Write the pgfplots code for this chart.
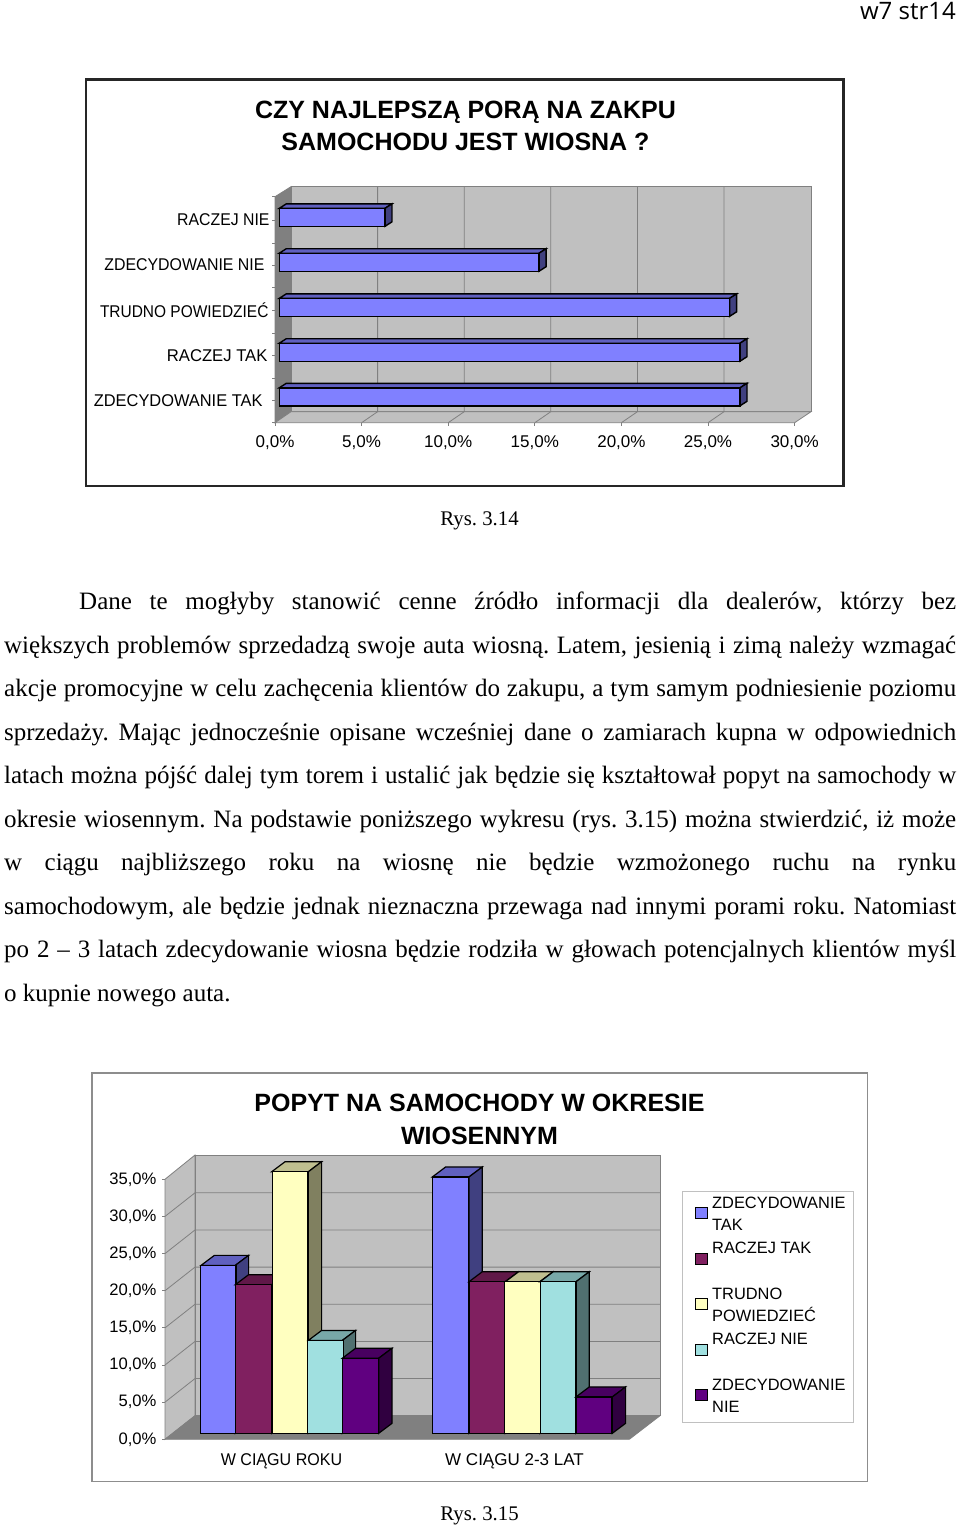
\documentclass[border=0pt]{standalone}
\usepackage{fontspec}
\usepackage{graphicx}
\usepackage{pgfplots}
\pgfplotsset{compat=1.18}
\setmainfont{Liberation Serif}
\newfontfamily\arial{Liberation Sans}
\newfontfamily\hdr{Open Sans}
\frenchspacing
\definecolor{wall}{HTML}{C0C0C0}
\definecolor{dwall}{HTML}{808080}
\definecolor{bA}{HTML}{8080FF}\definecolor{bAt}{HTML}{6060BF}\definecolor{bAs}{HTML}{404080}
\definecolor{bB}{HTML}{802060}\definecolor{bBt}{HTML}{601848}\definecolor{bBs}{HTML}{401030}
\definecolor{bC}{HTML}{FFFFC0}\definecolor{bCt}{HTML}{BFBF90}\definecolor{bCs}{HTML}{808060}
\definecolor{bD}{HTML}{A0E0E0}\definecolor{bDt}{HTML}{78A8A8}\definecolor{bDs}{HTML}{507070}
\definecolor{bE}{HTML}{600080}\definecolor{bEt}{HTML}{480060}\definecolor{bEs}{HTML}{300040}
% horizontal 3D bar: {y position}{value}
\newcommand\hb[2]{%
 \addplot[forget plot,fill=bAt,draw=black,line width=1.4pt,xshift=4.3pt] coordinates {(0,{#1+9})(0.404,{#1+13.5})({#2+0.404},{#1+13.5})(#2,{#1+9})} --cycle;
 \addplot[forget plot,fill=bAs,draw=black,line width=1.4pt,xshift=4.3pt] coordinates {(#2,{#1+9})({#2+0.404},{#1+13.5})({#2+0.404},{#1-4.5})(#2,{#1-9})} --cycle;
 \addplot[forget plot,xbar,bar width=18pt,bar shift=0pt,fill=bA,draw=black,line width=1.4pt,xshift=4.3pt] coordinates {(#2,#1)};
}
% vertical 3D bar: {x1}{x2}{value}{front}{top}{side}
\newcommand\vb[6]{%
 \addplot[forget plot,fill=#5,draw=black,line width=1.2pt,yshift=6pt] coordinates {(#1,#3)({#1+13.3},{#3+1.346})({#2+13.3},{#3+1.346})(#2,#3)} --cycle;
 \addplot[forget plot,fill=#6,draw=black,line width=1.2pt,yshift=6pt] coordinates {(#2,0)({#2+13.3},1.346)({#2+13.3},{#3+1.346})(#2,#3)} --cycle;
 \addplot[forget plot,ybar,bar width=35.8pt,bar shift=0pt,fill=#4,draw=black,line width=1.2pt,yshift=6pt] coordinates {({(#1+#2)/2},#3)};
}
\newcommand\bl[2]{\node[anchor=base west,inner sep=0pt] at (4,#1) {\makebox[952pt][s]{#2}};}
\newcommand\blp[2]{\node[anchor=base west,inner sep=0pt] at (4,#1) {#2};}
\begin{document}
\begin{tikzpicture}[x=1pt,y=-1pt]
\useasboundingbox (0,0) rectangle (960,1525);
\fill[white] (0,0) rectangle (960,1525);
% header
\node[anchor=base east,inner sep=0pt,font=\hdr\fontsize{24}{24}\selectfont] at (956,20) {w7 str14};
% frames
\draw[line width=2.4pt,black!85] (85.7,79.6) rectangle (843.5,485.7);
\draw[line width=1.3pt,dwall!90] (92,1073) rectangle (867.3,1481.3);
% titles
\node[align=center,inner sep=0pt,font=\arial\bfseries\fontsize{25}{32.5}\selectfont] at (465.5,126) {CZY NAJLEPSZĄ PORĄ NA ZAKPU\\SAMOCHODU JEST WIOSNA ?};
\node[align=center,inner sep=0pt,font=\arial\bfseries\fontsize{25}{32.5}\selectfont] at (479.5,1119.5) {POPYT NA SAMOCHODY W OKRESIE\\WIOSENNYM};
% chart 1
\begin{axis}[at={(275pt,-422.7pt)},anchor=south west,scale only axis,width=536pt,height=236pt,
 xmin=0,xmax=30.947,ymin=0,ymax=236,clip=false,axis line style={draw=none},
 axis x line*=bottom,axis y line*=left,
 xtick={0,5,10,15,20,25,30},xticklabels={{0,0\%},{5,0\%},{10,0\%},{15,0\%},{20,0\%},{25,0\%},{30,0\%}},
 ytick={22,67.2,112.4,157.6,202.8},
 yticklabels={\scalebox{0.965}[1]{ZDECYDOWANIE TAK}\kern7pt,\scalebox{0.98}[1]{RACZEJ TAK}\kern2pt,\scalebox{0.91}[1]{TRUDNO POWIEDZIEĆ}\kern1pt,\scalebox{0.935}[1]{ZDECYDOWANIE NIE}\kern5pt,\scalebox{0.93}[1]{RACZEJ NIE}},
 minor ytick={0,44,89.4,135.4,179.4,226},
 tick style={dwall,line width=0.8pt},major tick length=3pt,minor tick length=3pt,
 tick align=outside,
 y tick label style={font=\arial\fontsize{17}{17}\selectfont,xshift=1pt},
 x tick label style={font=\arial\fontsize{17}{17}\selectfont,yshift=-6pt},
]
\addplot[forget plot,fill=dwall,draw=dwall,line width=0.8pt] coordinates {(0,0)(0,226)(0.924,236)(0.924,11)} --cycle;
\addplot[forget plot,fill=wall,draw=dwall,line width=0.8pt] coordinates {(0.924,11)(0.924,236)(30.947,236)(30.947,11)} --cycle;
\addplot[forget plot,fill=wall,draw=dwall,line width=0.8pt] coordinates {(0,0)(30,0)(30.947,11)(0.924,11)} --cycle;
\addplot[forget plot,dwall,line width=0.8pt] coordinates {(5.924,236)(5.924,11)(5,0)};
\addplot[forget plot,dwall,line width=0.8pt] coordinates {(10.924,236)(10.924,11)(10,0)};
\addplot[forget plot,dwall,line width=0.8pt] coordinates {(15.924,236)(15.924,11)(15,0)};
\addplot[forget plot,dwall,line width=0.8pt] coordinates {(20.924,236)(20.924,11)(20,0)};
\addplot[forget plot,dwall,line width=0.8pt] coordinates {(25.924,236)(25.924,11)(25,0)};
\hb{25.9}{26.6}
\hb{70.5}{26.6}
\hb{115.35}{26.0}
\hb{160.5}{15.0}
\hb{205.35}{6.1}
\end{axis}
% caption
\node[inner sep=0pt,anchor=base,font=\fontsize{20.8}{20.8}\selectfont] at (479.5,525) {Rys. 3.14};
% body text
\fontsize{25}{25}\selectfont
\node[anchor=base west,inner sep=0pt] at (79,609.5) {\makebox[877pt][s]{Dane te mogłyby stanowić cenne źródło informacji dla dealerów, którzy bez}};
\bl{653}{większych problemów sprzedadzą swoje auta wiosną. Latem, jesienią i zimą należy wzmagać}
\bl{696.6}{akcje promocyjne w celu zachęcenia klientów do zakupu, a tym samym podniesienie poziomu}
\bl{740.1}{sprzedaży. Mając jednocześnie opisane wcześniej dane o zamiarach kupna w odpowiednich}
\bl{783.7}{latach można pójść dalej tym torem i ustalić jak będzie się kształtował popyt na samochody w}
\bl{827.2}{okresie wiosennym. Na podstawie poniższego wykresu (rys. 3.15) można stwierdzić, iż może}
\bl{870.8}{w ciągu najbliższego roku na wiosnę nie będzie wzmożonego ruchu na rynku}
\bl{914.3}{samochodowym, ale będzie jednak nieznaczna przewaga nad innymi porami roku. Natomiast}
\bl{957.9}{po 2 – 3 latach zdecydowanie wiosna będzie rodziła w głowach potencjalnych klientów myśl}
\blp{1001.4}{o kupnie nowego auta.}
% chart 2
\begin{axis}[at={(165pt,-1439.3pt)},anchor=south west,scale only axis,width=495pt,height=284.3pt,
 xmin=165,xmax=660,ymin=0,ymax=38.264,clip=false,axis line style={draw=none},
 axis x line*=bottom,axis y line*=left,
 xtick={281.5,514.5},xticklabels={\scalebox{0.945}[1]{W CIĄGU ROKU},W CIĄGU 2-3 LAT},
 x tick style={draw=none},
 extra x ticks={165,396,629.3},extra x tick labels={},extra x tick style={tick style={dwall,line width=0.8pt},major tick length=4pt},
 ytick={0,5,...,35},yticklabels={{0,0\%},{5,0\%},{10,0\%},{15,0\%},{20,0\%},{25,0\%},{30,0\%},{35,0\%}},
 y tick style={dwall,line width=0.8pt},major tick length=3pt,tick align=outside,
 y tick label style={font=\arial\fontsize{16.6}{16.6}\selectfont,xshift=3pt},
 x tick label style={font=\arial\fontsize{17}{17}\selectfont,yshift=-3pt},
 legend style={at={(1.0438,0.8744)},anchor=north west,draw=wall,line width=1pt,fill=white,
   inner xsep=13.3pt,inner ysep=1.7pt,row sep=0pt,font=\arial\fontsize{16.4}{22}\selectfont,
   cells={anchor=west},nodes={inner sep=0pt,outer sep=0pt,text depth=,text height=}},
 legend image code/.code={\draw[#1,line width=1pt] (3pt,-3pt) rectangle (15pt,8pt);\path (18.7pt,0pt);},
]
\addplot[forget plot,fill=wall,draw=dwall,line width=0.8pt] coordinates {(165,0)(165,35)(195,38.264)(195,3.176)} --cycle;
\addplot[forget plot,fill=wall,draw=dwall,line width=1pt] coordinates {(195,3.176)(195,38.264)(660,38.264)(660,3.176)} --cycle;
\addplot[forget plot,fill=dwall,draw=dwall,line width=0.8pt] coordinates {(165,0)(629.3,0)(660,3.176)(195,3.176)} --cycle;
\addplot[forget plot,dwall,line width=0.8pt] coordinates {(165,5)(195,8.176)(660,8.176)};
\addplot[forget plot,dwall,line width=0.8pt] coordinates {(165,10)(195,13.176)(660,13.176)};
\addplot[forget plot,dwall,line width=0.8pt] coordinates {(165,15)(195,18.176)(660,18.176)};
\addplot[forget plot,dwall,line width=0.8pt] coordinates {(165,20)(195,23.176)(660,23.176)};
\addplot[forget plot,dwall,line width=0.8pt] coordinates {(165,25)(195,28.176)(660,28.176)};
\addplot[forget plot,dwall,line width=0.8pt] coordinates {(165,30)(195,33.176)(660,33.176)};
\vb{201}{235.3}{22.6}{bA}{bAt}{bAs}
\vb{235.3}{271.7}{20.0}{bB}{bBt}{bBs}
\vb{271.7}{308.3}{35.2}{bC}{bCt}{bCs}
\vb{308.3}{342.3}{12.5}{bD}{bDt}{bDs}
\vb{342.3}{378.7}{10.1}{bE}{bEt}{bEs}
\vb{432.3}{469}{34.5}{bA}{bAt}{bAs}
\vb{469}{505.3}{20.4}{bB}{bBt}{bBs}
\vb{505.3}{540}{20.4}{bC}{bCt}{bCs}
\vb{540}{576}{20.4}{bD}{bDt}{bDs}
\vb{576}{612.3}{4.9}{bE}{bEt}{bEs}
\addlegendimage{fill=bA,draw=black}
\addlegendentry{\parbox[t][45.5pt][t]{128pt}{\strut ZDECYDOWANIE\\TAK}}
\addlegendimage{fill=bB,draw=black}
\addlegendentry{\parbox[t][45.5pt][t]{128pt}{\strut RACZEJ TAK}}
\addlegendimage{fill=bC,draw=black}
\addlegendentry{\parbox[t][45.5pt][t]{128pt}{\strut TRUDNO\\POWIEDZIEĆ}}
\addlegendimage{fill=bD,draw=black}
\addlegendentry{\parbox[t][45.5pt][t]{128pt}{\strut RACZEJ NIE}}
\addlegendimage{fill=bE,draw=black}
\addlegendentry{\parbox[t][45.5pt][t]{128pt}{\strut ZDECYDOWANIE\\NIE}}
\end{axis}
\node[inner sep=0pt,anchor=base,font=\fontsize{20.8}{20.8}\selectfont] at (479.5,1520) {Rys. 3.15};
\end{tikzpicture}
\end{document}
